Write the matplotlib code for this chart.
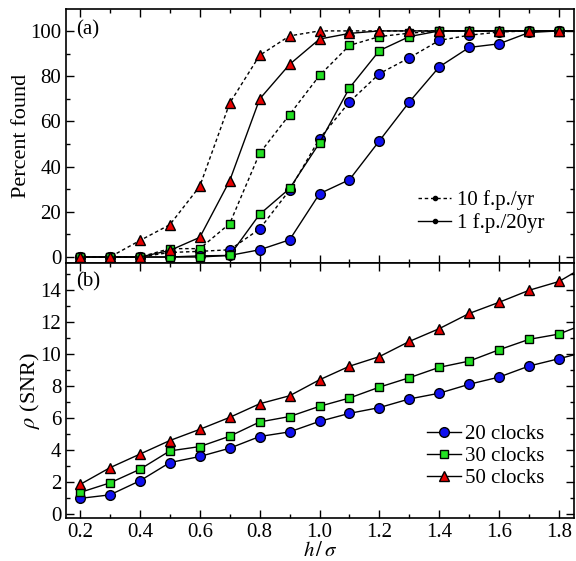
"""Detection percentage and SNR versus h/sigma for different clock numbers
"""

import numpy as np
import matplotlib
matplotlib.use('Agg')
import matplotlib.pyplot as plt
from matplotlib.lines import Line2D
from matplotlib.ticker import MultipleLocator

plt.rcParams['font.family'] = ['Liberation Serif', 'DejaVu Serif']
plt.rcParams['mathtext.fontset'] = 'stix'

h_sigma = [0.2, 0.3, 0.4, 0.5, 0.6, 0.7, 0.8, 0.9, 1.0, 1.1, 1.2, 1.3, 1.4, 1.5, 1.6, 1.7, 1.8, 1.9]

# percent found, 10 false positives per year (dotted)
found_20_fp10 = [0, 0, 0, 2, 2.5, 3.2, 12.4, 29.6, 52.4, 68.6, 81.1, 88.1, 95.8, 98.1, 99.5, 100, 100, 100]
found_30_fp10 = [0, 0, 0, 3.7, 3.7, 14.8, 45.9, 63.0, 80.3, 93.6, 97.5, 99.0, 100, 100, 100, 100, 100, 100]
found_50_fp10 = [0, 0, 7.3, 14.3, 31.3, 68.1, 89.2, 97.8, 100, 100, 100, 100, 100, 100, 100, 100, 100, 100]

# percent found, 1 false positive per 20 years (solid)
found_20_fp1 = [0, 0, 0, 0, 0.5, 0.7, 3.2, 7.6, 28.0, 34.2, 51.4, 68.6, 84.1, 92.7, 94.3, 99.3, 100, 100]
found_30_fp1 = [0, 0, 0, 0, 0, 0.7, 18.9, 30.3, 50.5, 74.8, 91.3, 97.5, 100, 100, 100, 100, 100, 100]
found_50_fp1 = [0, 0, 0, 2.9, 8.7, 33.8, 69.9, 85.2, 96.4, 98.9, 100, 100, 100, 100, 100, 100, 100, 100]

# SNR
snr_20 = [0.98, 1.2, 2.08, 3.22, 3.6, 4.12, 4.85, 5.14, 5.8, 6.3, 6.66, 7.2, 7.56, 8.12, 8.57, 9.26, 9.72, 10.2]
snr_30 = [1.35, 1.95, 2.8, 3.95, 4.22, 4.87, 5.76, 6.1, 6.74, 7.26, 7.94, 8.53, 9.18, 9.57, 10.28, 10.93, 11.26, 12.0]
snr_50 = [1.85, 2.9, 3.75, 4.6, 5.3, 6.05, 6.9, 7.4, 8.4, 9.25, 9.85, 10.8, 11.6, 12.55, 13.25, 14.0, 14.55, 15.65]

clock_labels = ['20 clocks', '30 clocks', '50 clocks']

blue = '#1010f0'
green = '#22e022'
red = '#e80000'

# marker styles for 20, 30, 50 clocks
styles = [dict(marker='o', mfc=blue, ms=7),
          dict(marker='s', mfc=green, ms=5.5),
          dict(marker='^', mfc=red, ms=7)]
common = dict(color='k', lw=1.0, mec='k', mew=1.0, clip_on=True)
dotted = (0, (2.5, 2))

fig = plt.figure(figsize=(5.76, 5.61), dpi=100)
ax1 = fig.add_axes([0.1146, 0.531, 0.8819, 0.453])
ax2 = fig.add_axes([0.1146, 0.0766, 0.8819, 0.4544], sharex=ax1)

# (a) percent found
for y, st in zip([found_20_fp10, found_30_fp10, found_50_fp10], styles):
    ax1.plot(h_sigma, y, ls=dotted, **st, **common)
for y, st in zip([found_20_fp1, found_30_fp1, found_50_fp1], styles):
    ax1.plot(h_sigma, y, ls='-', **st, **common)

ax1.set_ylim(-2.7, 109.7)
ax1.set_ylabel('Percent found', fontsize=16, labelpad=-1)
ax1.yaxis.set_major_locator(MultipleLocator(20))
ax1.yaxis.set_minor_locator(MultipleLocator(10))
ax1.text(0.02, 0.955, '(a)', transform=ax1.transAxes, fontsize=15, va='top')
ax1.tick_params(labelbottom=False)

fp_handles = [Line2D([], [], color='k', lw=1.0, ls=dotted, marker='o', ms=3),
              Line2D([], [], color='k', lw=1.0, ls='-', marker='o', ms=3)]
ax1.legend(fp_handles, ['10 f.p./yr', '1 f.p./20yr'], loc='lower right', frameon=False,
           fontsize=15, handlelength=1.6, handletextpad=0.25, labelspacing=0.15,
           borderaxespad=0.3, bbox_to_anchor=(0.97, 0.06))

# (b) SNR
for y, st, lab in zip([snr_20, snr_30, snr_50], styles, clock_labels):
    ax2.plot(h_sigma, y, ls='-', label=lab, **st, **common)

ax2.set_ylim(-0.25, 15.7)
ax2.set_xlim(0.153, 1.85)
ax2.set_ylabel(r'$\rho$ (SNR)', fontsize=16, labelpad=-1)
ax2.set_xlabel(r'$h\,/\,\sigma$', fontsize=15, labelpad=0)
ax2.yaxis.set_major_locator(MultipleLocator(2))
ax2.yaxis.set_minor_locator(MultipleLocator(1))
ax2.text(0.02, 0.965, '(b)', transform=ax2.transAxes, fontsize=15, va='top')
ax2.legend(loc='lower right', frameon=False, fontsize=15, handlelength=1.6,
           handletextpad=0.2, labelspacing=0.12, borderaxespad=0.3,
           bbox_to_anchor=(0.97, 0.06))

for ax in (ax1, ax2):
    ax.xaxis.set_major_locator(MultipleLocator(0.2))
    ax.xaxis.set_minor_locator(MultipleLocator(0.1))
    ax.tick_params(which='both', direction='in', top=True, right=True, labelsize=15)
    ax.tick_params(which='major', length=6, width=1)
    ax.tick_params(which='minor', length=3, width=1)
    for sp in ax.spines.values():
        sp.set_linewidth(1.2)

fig.savefig('out.png', dpi=100)
